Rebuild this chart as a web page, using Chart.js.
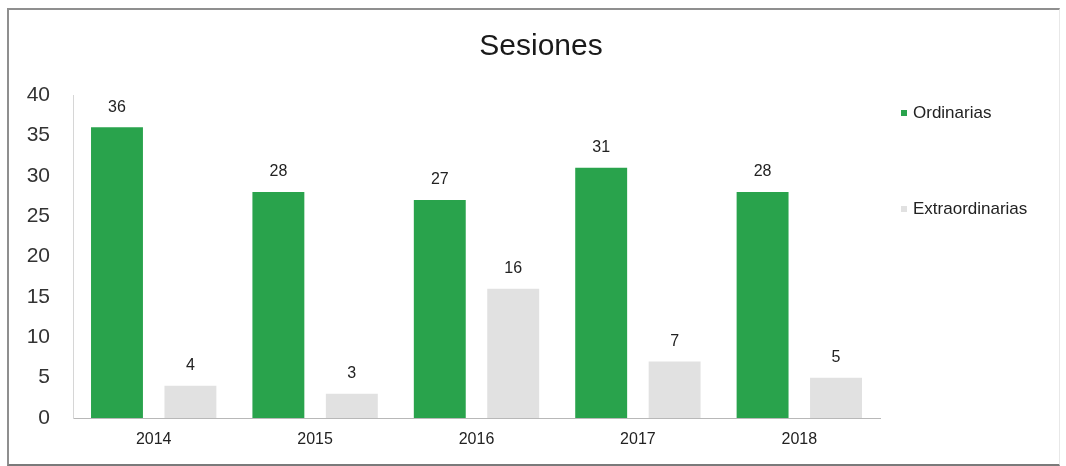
<!DOCTYPE html>
<html>
<head>
<meta charset="utf-8">
<script src="https://cdn.jsdelivr.net/npm/chart.js@4/dist/chart.umd.min.js"></script>
<style>
  html, body { margin: 0; padding: 0; background: #ffffff; }
  body { width: 1066px; height: 466px; position: relative; overflow: hidden; font-family: "Liberation Sans", Arial, sans-serif; }
  #frame { position: absolute; left: 7px; top: 8px; width: 1053px; height: 458px; box-sizing: border-box;
           border-top: 2px solid #8f8f8f; border-left: 2px solid #8f8f8f; border-bottom: 2px solid #7a7a7a; border-right: 1px solid #e8e8e8; }
  #chart { position: absolute; left: 0; top: 0; }
  #title { position: absolute; left: 341px; width: 400px; top: 27px; height: 36px; line-height: 36px; text-align: center;
           font-size: 30px; color: #1a1a1a; }
  .leg { position: absolute; left: 901px; height: 20px; display: flex; align-items: center; font-size: 17px; color: #222; white-space: nowrap; }
  .leg .box { width: 6px; height: 6px; margin-right: 6px; }
</style>
</head>
<body>
<div id="frame"></div>
<canvas id="chart" width="1066" height="466"></canvas>
<div id="title"></div>
<div id="legend"></div>
<script>
const titleText = "Sesiones";
const categories = ["2014", "2015", "2016", "2017", "2018"];
const seriesNames = ["Ordinarias", "Extraordinarias"];
const ordinarias = [36, 28, 27, 31, 28];
const extraordinarias = [4, 3, 16, 7, 5];
const yTicks = [0, 5, 10, 15, 20, 25, 30, 35, 40];
const seriesColors = ["#29a34c", "#e1e1e1"];

const FONT = "'Liberation Sans', Arial, sans-serif";

const valueLabels = {
  id: 'valueLabels',
  afterDatasetsDraw(chart) {
    const ctx = chart.ctx;
    ctx.save();
    ctx.font = "16px " + FONT;
    ctx.fillStyle = "#222";
    ctx.textAlign = "center";
    ctx.textBaseline = "middle";
    chart.data.datasets.forEach((ds, i) => {
      const meta = chart.getDatasetMeta(i);
      meta.data.forEach((bar, j) => {
        ctx.fillText(String(ds.data[j]), bar.x, bar.y - 20);
      });
    });
    ctx.restore();
  }
};

new Chart(document.getElementById('chart'), {
  type: 'bar',
  data: {
    labels: categories,
    datasets: [
      { label: seriesNames[0], data: ordinarias, backgroundColor: seriesColors[0], categoryPercentage: 0.91, barPercentage: 0.707 },
      { label: seriesNames[1], data: extraordinarias, backgroundColor: seriesColors[1], categoryPercentage: 0.91, barPercentage: 0.707 }
    ]
  },
  options: {
    responsive: false,
    animation: false,
    devicePixelRatio: 1,
    layout: { padding: { left: 0, right: 186, top: 95, bottom: 0 } },
    plugins: {
      legend: { display: false },
      tooltip: { enabled: false },
      title: { display: false }
    },
    scales: {
      x: {
        grid: { display: false, drawTicks: false },
        border: { display: true, color: "#b8b8b8", width: 1 },
        ticks: { color: "#222", font: { family: FONT, size: 16 }, padding: 12 },
        afterFit(s) { s.height = 48; }
      },
      y: {
        min: 0, max: 40,
        grid: { display: false, drawTicks: false },
        border: { display: true, color: "#d6d6d6", width: 1 },
        afterBuildTicks(s) { s.ticks = yTicks.map(v => ({ value: v })); },
        ticks: { color: "#333", font: { family: FONT, size: 21 }, padding: 23 },
        afterFit(s) { s.width = 73; }
      }
    }
  },
  plugins: [valueLabels]
});

document.getElementById('title').textContent = titleText;
const legend = document.getElementById('legend');
const legendCenters = [113, 209];
seriesNames.forEach((name, i) => {
  const item = document.createElement('div');
  item.className = 'leg';
  item.style.top = (legendCenters[i] - 10) + 'px';
  const box = document.createElement('span');
  box.className = 'box';
  box.style.background = seriesColors[i];
  const txt = document.createElement('span');
  txt.textContent = name;
  item.appendChild(box);
  item.appendChild(txt);
  legend.appendChild(item);
});
</script>
</body>
</html>
